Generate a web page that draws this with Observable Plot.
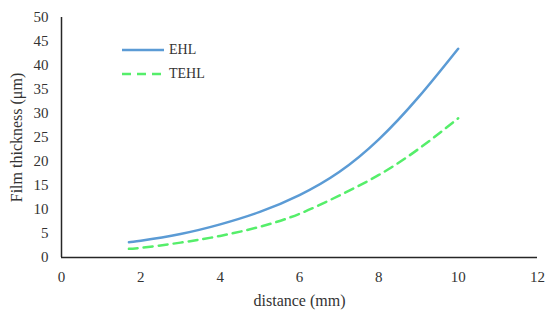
<!DOCTYPE html>
<html>
<head>
<meta charset="utf-8">
<script src="https://cdn.jsdelivr.net/npm/d3@7"></script>
<script src="https://cdn.jsdelivr.net/npm/@observablehq/plot@0.6"></script>
<style>
  html, body { margin: 0; padding: 0; background: #fff; }
  #wrap { position: relative; width: 545px; height: 311px; }
  #legend { position: absolute; left: 121px; top: 38px; font-size: 14px; color: #333; }
  #legend .row { display: flex; align-items: center; height: 24px; }
  #legend svg { margin-right: 4px; }
</style>
</head>
<body>
<div id="wrap"></div>
<script>
const FONT = "'Liberation Serif', serif";
const seriesNames = ["EHL", "TEHL"];
const distance = [1.7, 2, 3, 4, 5, 6, 7, 8, 9, 10];
const ehl  = [3.2, 3.5, 4.9, 6.9, 9.5, 13.0, 17.8, 24.6, 33.4, 43.5];
const tehl = [1.8, 2.0, 3.1, 4.5, 6.4, 9.1, 12.9, 17.2, 22.6, 29.0];
const xTicks = [0, 2, 4, 6, 8, 10, 12];
const yTicks = [0, 5, 10, 15, 20, 25, 30, 35, 40, 45, 50];
const colors = ["#5b9bd5", "#55ee6a"];

const rows = [];
distance.forEach((d, i) => {
  rows.push({series: seriesNames[0], x: d, y: ehl[i]});
  rows.push({series: seriesNames[1], x: d, y: tehl[i]});
});

const chart = Plot.plot({
  width: 545,
  height: 311,
  marginLeft: 61,
  marginRight: 8,
  marginTop: 17,
  marginBottom: 54,
  style: {fontFamily: FONT, fontSize: "15px", color: "#333", background: "#fff"},
  x: {domain: [0, 12], ticks: xTicks, tickSize: 0, tickPadding: 14, label: "distance (mm)", labelAnchor: "center", labelArrow: "none", labelOffset: 48},
  y: {domain: [0, 50], ticks: yTicks, tickSize: 0, tickPadding: 13, label: "Film thickness (μm)", labelAnchor: "center", labelArrow: "none", labelOffset: 51},
  marks: [
    Plot.line(rows.filter(d => d.series === seriesNames[0]), {x: "x", y: "y", stroke: colors[0], strokeWidth: 2.5, curve: "natural"}),
    Plot.line(rows.filter(d => d.series === seriesNames[1]), {x: "x", y: "y", stroke: colors[1], strokeWidth: 2.5, strokeDasharray: "9,6", curve: "natural"}),
    Plot.ruleY([0], {stroke: "#262626", strokeWidth: 1.5}),
    Plot.ruleX([0], {stroke: "#262626", strokeWidth: 1.5})
  ]
});
chart.setAttribute("font-family", FONT);
chart.querySelectorAll("g, text").forEach(el => { el.style.fontFamily = FONT; if (el.hasAttribute("font-family")) el.setAttribute("font-family", FONT); });
chart.querySelectorAll("[aria-label='x-axis label'] text, [aria-label='y-axis label'] text, [aria-label='x-axis label'], [aria-label='y-axis label']").forEach(t => { t.setAttribute("font-size", "16px"); t.style.fontSize = "16px"; });

const wrap = document.getElementById("wrap");
wrap.appendChild(chart);

const legend = document.createElement("div");
legend.id = "legend";
legend.style.fontFamily = FONT;
seriesNames.forEach((name, i) => {
  const row = document.createElement("div");
  row.className = "row";
  row.innerHTML = `<svg width="44" height="6"><line x1="1" y1="3" x2="43" y2="3" stroke="${colors[i]}" stroke-width="2.5" ${i === 1 ? 'stroke-dasharray="9,6"' : ''}/></svg><span style="font-family:${FONT}">${name}</span>`;
  legend.appendChild(row);
});
wrap.appendChild(legend);
</script>
</body>
</html>
